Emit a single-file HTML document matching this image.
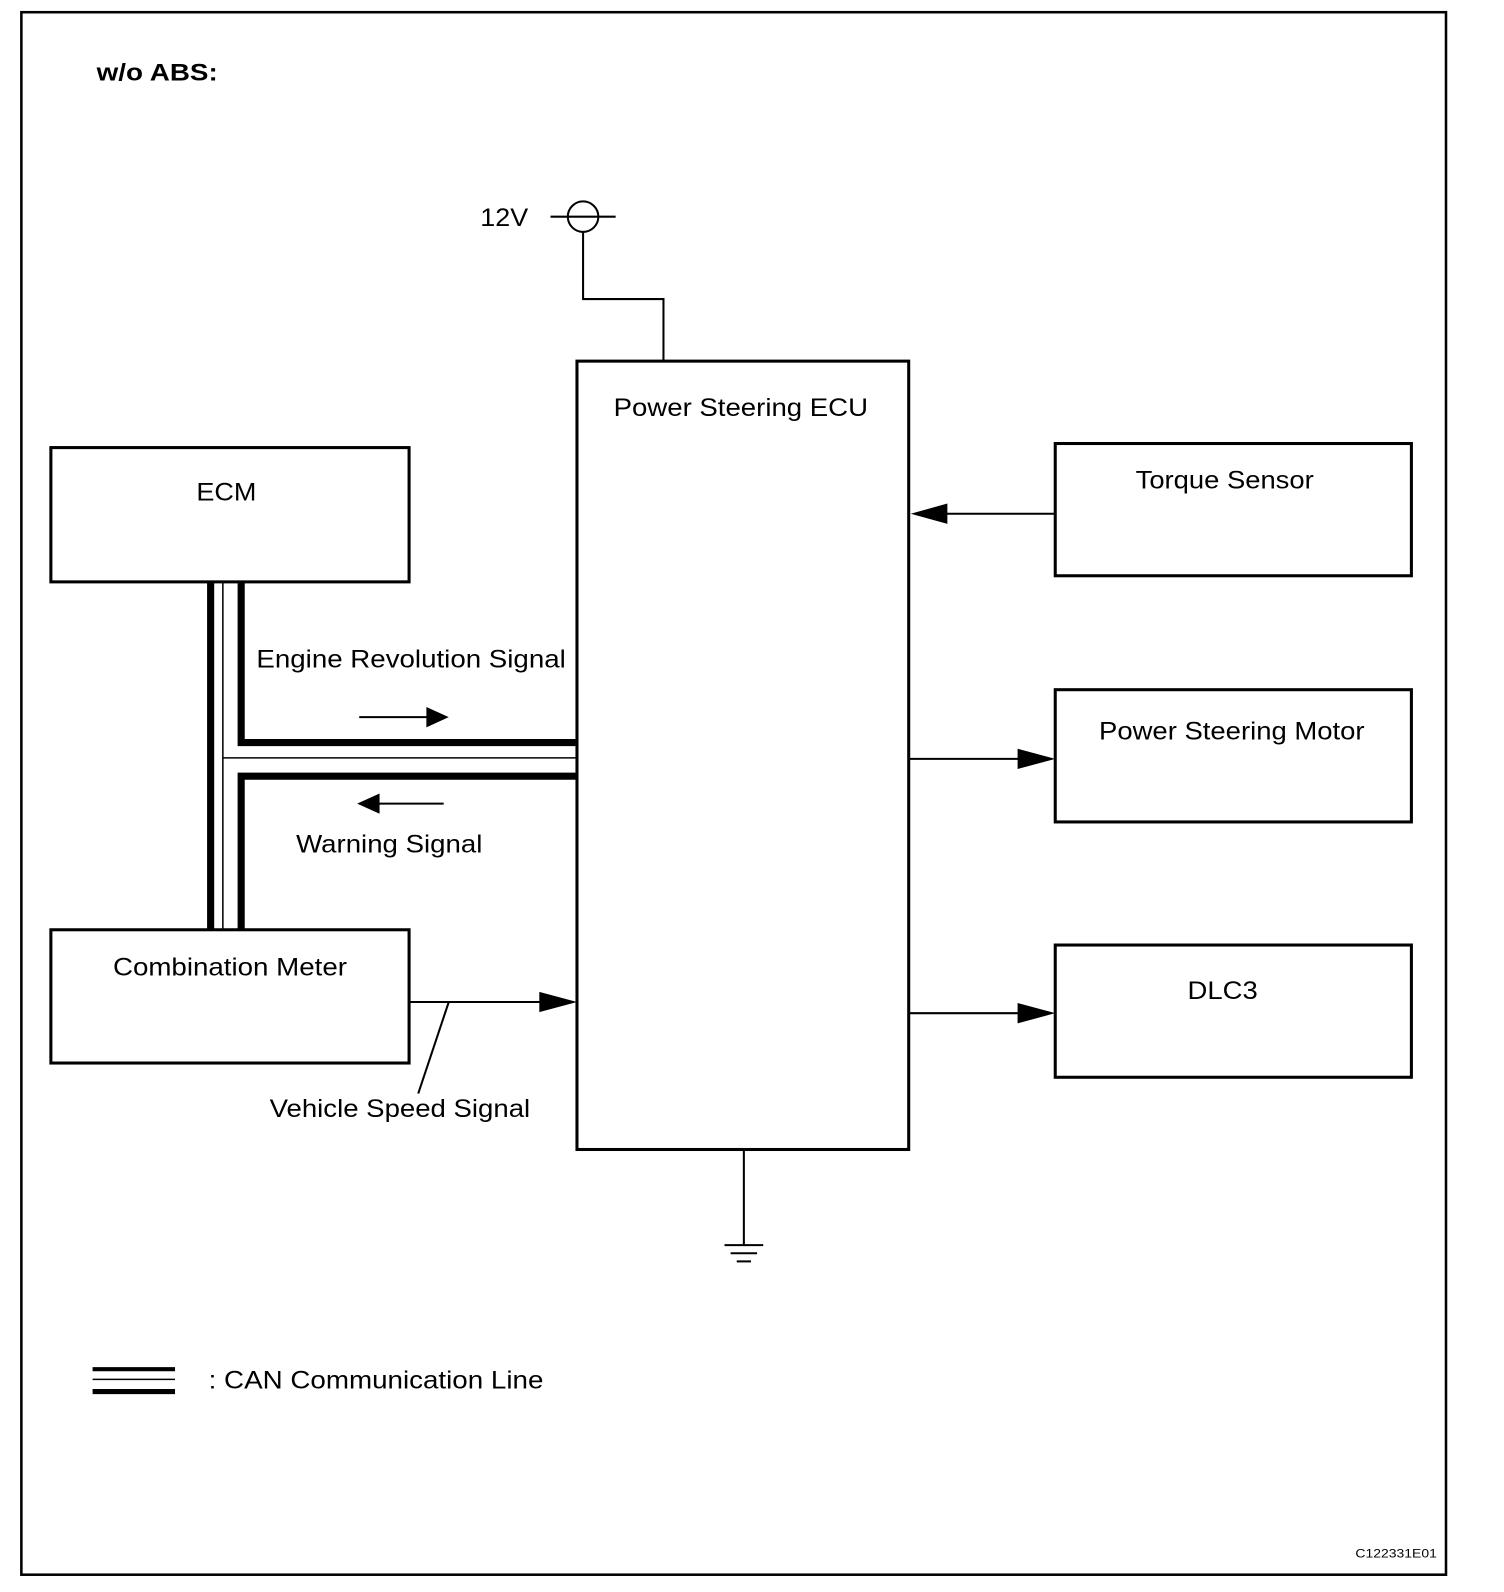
<!DOCTYPE html>
<html><head><meta charset="utf-8"><style>html,body{margin:0;padding:0;background:#fff}svg{display:block}text{font-family:"Liberation Sans",sans-serif;fill:#000}</style></head>
<body>
<svg width="1504" height="1592" viewBox="0 0 1478 1565" preserveAspectRatio="none" xmlns="http://www.w3.org/2000/svg">
<rect x="21" y="12" width="1400" height="1536" fill="none" stroke="#000" stroke-width="2.5"/>
<text x="95" y="79" font-size="24" font-weight="bold" textLength="119" lengthAdjust="spacingAndGlyphs">w/o ABS:</text>
<text x="472" y="222" font-size="25" textLength="47" lengthAdjust="spacingAndGlyphs">12V</text>
<circle cx="573" cy="213" r="15" fill="none" stroke="#000" stroke-width="2"/>
<line x1="541" y1="213" x2="605" y2="213" stroke="#000" stroke-width="2"/>
<polyline points="573,228 573,294 652,294 652,355" fill="none" stroke="#000" stroke-width="2"/>
<g fill="none" stroke="#000" stroke-width="3">
<rect x="567" y="355" width="326" height="775"/>
<rect x="50" y="440" width="352" height="132"/>
<rect x="50" y="914" width="352" height="131"/>
<rect x="1037" y="436" width="350" height="130"/>
<rect x="1037" y="678" width="350" height="130"/>
<rect x="1037" y="929" width="350" height="130"/>
</g>
<g font-size="25" lengthAdjust="spacingAndGlyphs">
<text x="603" y="409" textLength="250" lengthAdjust="spacingAndGlyphs">Power Steering ECU</text>
<text x="193" y="492" textLength="59" lengthAdjust="spacingAndGlyphs">ECM</text>
<text x="111" y="959" textLength="230" lengthAdjust="spacingAndGlyphs">Combination Meter</text>
<text x="1116" y="480" textLength="175" lengthAdjust="spacingAndGlyphs">Torque Sensor</text>
<text x="1080" y="727" textLength="261" lengthAdjust="spacingAndGlyphs">Power Steering Motor</text>
<text x="1167" y="982" textLength="69" lengthAdjust="spacingAndGlyphs">DLC3</text>
<text x="252" y="656" textLength="304" lengthAdjust="spacingAndGlyphs">Engine Revolution Signal</text>
<text x="291" y="838" textLength="183" lengthAdjust="spacingAndGlyphs">Warning Signal</text>
<text x="265" y="1098" textLength="256" lengthAdjust="spacingAndGlyphs">Vehicle Speed Signal</text>
<text x="205" y="1365" textLength="329" lengthAdjust="spacingAndGlyphs">: CAN Communication Line</text>
</g>
<g stroke="#000" fill="none">
<line x1="207" y1="572" x2="207" y2="914" stroke-width="7"/>
<line x1="219" y1="572" x2="219" y2="914" stroke-width="1.5"/>
<polyline points="237,572 237,730 567,730" stroke-width="7"/>
<line x1="219" y1="745" x2="567" y2="745" stroke-width="1.5"/>
<polyline points="567,763 237,763 237,914" stroke-width="7"/>
</g>
<g stroke="#000" stroke-width="2">
<line x1="353" y1="705" x2="422" y2="705"/>
<line x1="372" y1="790" x2="436" y2="790"/>
<line x1="915" y1="505" x2="1037" y2="505"/>
<line x1="893" y1="746" x2="1002" y2="746"/>
<line x1="893" y1="996" x2="1002" y2="996"/>
<line x1="403" y1="985" x2="532" y2="985"/>
<line x1="441" y1="985" x2="411" y2="1075"/>
<line x1="731" y1="1130" x2="731" y2="1224"/>
<line x1="712" y1="1224" x2="750" y2="1224"/>
<line x1="718" y1="1232" x2="744" y2="1232"/>
<line x1="724" y1="1240" x2="738" y2="1240"/>
</g>
<g fill="#000">
<polygon points="441,705 419,695 419,715"/>
<polygon points="351,790 373,780 373,800"/>
<polygon points="895,505 931,495 931,515"/>
<polygon points="1037,746 1000,736 1000,756"/>
<polygon points="1037,996 1000,986 1000,1006"/>
<polygon points="567,985 530,975 530,995"/>
</g>
<g stroke="#000">
<line x1="91" y1="1346" x2="172" y2="1346" stroke-width="4"/>
<line x1="91" y1="1356" x2="172" y2="1356" stroke-width="1.5"/>
<line x1="91" y1="1368" x2="172" y2="1368" stroke-width="5"/>
</g>
<text x="1332" y="1531" font-size="12" textLength="80" lengthAdjust="spacingAndGlyphs">C122331E01</text>
</svg>
</body></html>
